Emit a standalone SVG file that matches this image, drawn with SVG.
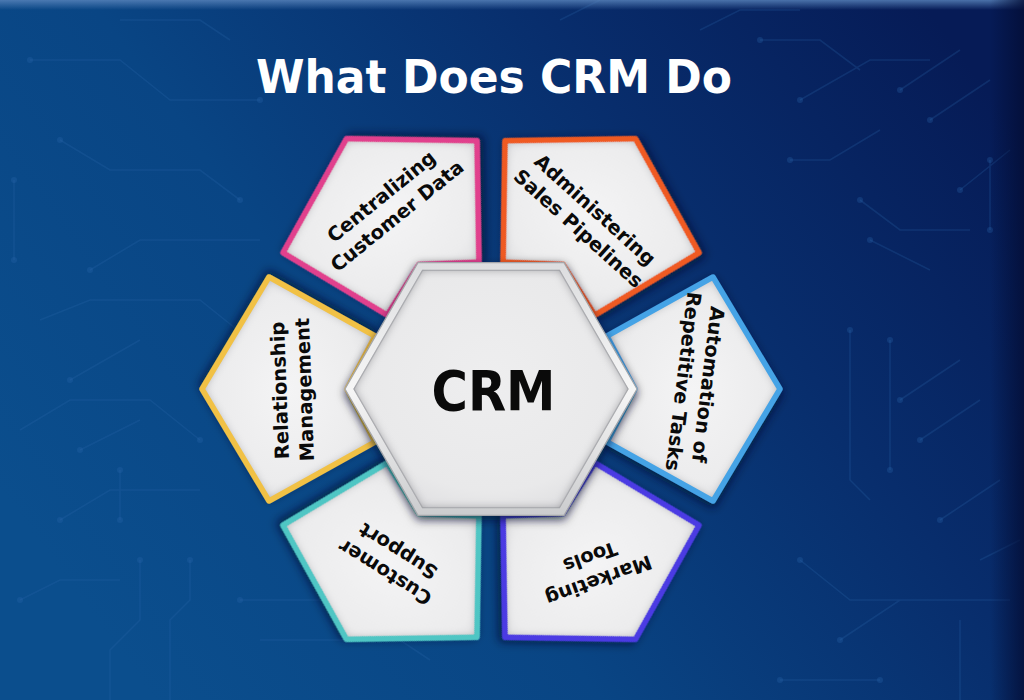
<svg xmlns="http://www.w3.org/2000/svg" xmlns:xlink="http://www.w3.org/1999/xlink" width="1024" height="700" viewBox="0 0 1024 700">
<defs>
  <linearGradient id="bg" x1="0" y1="0.7" x2="1" y2="0.2">
    <stop offset="0" stop-color="#0b4e8d"/>
    <stop offset="0.35" stop-color="#094584"/>
    <stop offset="0.7" stop-color="#082d6c"/>
    <stop offset="1" stop-color="#061b56"/>
  </linearGradient>
  <linearGradient id="topStrip" x1="0" y1="0" x2="0" y2="1">
    <stop offset="0" stop-color="#5b86bd" stop-opacity="0.8"/>
    <stop offset="1" stop-color="#5b86bd" stop-opacity="0"/>
  </linearGradient>
  <linearGradient id="rightEdge" x1="0" y1="0" x2="1" y2="0">
    <stop offset="0" stop-color="#030d35" stop-opacity="0"/>
    <stop offset="1" stop-color="#030d35" stop-opacity="0.8"/>
  </linearGradient>
  <radialGradient id="petalGrad" cx="0.5" cy="0.5" r="0.6">
    <stop offset="0" stop-color="#f4f4f5"/>
    <stop offset="0.7" stop-color="#ececed"/>
    <stop offset="1" stop-color="#dcdcde"/>
  </radialGradient>
  <linearGradient id="hexFrame" x1="0" y1="0" x2="0" y2="1">
    <stop offset="0" stop-color="#dcdddf"/>
    <stop offset="0.5" stop-color="#f6f6f6"/>
    <stop offset="1" stop-color="#cbccce"/>
  </linearGradient>
  <radialGradient id="hexFill" cx="0.5" cy="0.45" r="0.6">
    <stop offset="0" stop-color="#eeeeef"/>
    <stop offset="0.8" stop-color="#e9e9ea"/>
    <stop offset="1" stop-color="#e0e0e2"/>
  </radialGradient>
  <filter id="drop" x="-20%" y="-20%" width="140%" height="140%">
    <feDropShadow dx="0" dy="4" stdDeviation="5" flood-color="#000a2a" flood-opacity="0.7"/>
  </filter>
  <filter id="inner" x="-10%" y="-10%" width="120%" height="120%">
    <feFlood flood-color="#8e8f94" result="f"/>
    <feComposite in="f" in2="SourceAlpha" operator="out" result="o"/>
    <feGaussianBlur in="o" stdDeviation="5" result="b"/>
    <feComposite in="b" in2="SourceAlpha" operator="in" result="s"/>
    <feMerge><feMergeNode in="SourceGraphic"/><feMergeNode in="s"/></feMerge>
  </filter>
  <path id="petal" d="M289 0 L222 -112 L116 -53 L144 0 L116 53 L222 112 Z"/>
  <polygon id="hexOuter" points="146,0 73,-126.4 -73,-126.4 -146,0 -73,126.4 73,126.4"/>
  <polygon id="hexInner" points="137,0 68.5,-118.6 -68.5,-118.6 -137,0 -68.5,118.6 68.5,118.6"/>
</defs>
<style>
  .fill { fill: url(#petalGrad); filter: url(#inner); }
  .edge { fill: none; stroke-width: 5.5; stroke-linejoin: round; }
  .lbl { font-family: "DejaVu Sans", "Liberation Sans", sans-serif; font-weight: bold; font-size: 19.5px; fill: #0a0a0a; text-anchor: middle; }
  .circ { fill: none; stroke: #2a68ad; stroke-opacity: 0.25; stroke-width: 1.6; }
  .dot { fill: #2a68ad; fill-opacity: 0.3; }
</style>

<!-- background -->
<rect width="1024" height="700" fill="url(#bg)"/>
<g id="circuit">
  <path class="circ" d="M30 60 H120 L170 100 H260 M60 140 L110 170 H200 L240 200 M14 180 V260 M90 270 L140 240 H260 M40 320 L90 300 H200 L250 340 H320 M70 380 L140 340 M20 430 L70 400 H150 L200 440 M60 520 L110 490 H200 M140 560 V620 L110 650 V700 M190 560 V600 L170 620 V700 M20 600 L60 580 H120 M240 600 H330 M260 640 H400 L430 660 M120 470 V520 M80 450 L140 420"/>
  <path class="circ" d="M760 40 H820 L860 70 M800 100 L870 60 H930 M900 90 L960 50 M930 120 L990 80 M990 160 V230 M960 190 L1010 150 M880 130 L830 160 L790 160 M860 200 L900 230 H970 M870 240 L930 270 M850 330 V480 L870 500 M890 340 V470 M900 400 L960 360 M920 440 L980 400 M940 520 L1000 480 M800 560 L850 600 H940 M840 640 L900 600 H1010 M780 680 H880 M960 620 V700 M980 560 L1020 540"/>
  <path class="circ" d="M560 20 L600 0 M700 30 L740 10 H800 M120 20 H200 L230 40"/>
  <g class="dot">
    <circle cx="30" cy="60" r="3"/><circle cx="260" cy="100" r="3"/><circle cx="60" cy="140" r="3"/><circle cx="240" cy="200" r="3"/>
    <circle cx="14" cy="180" r="3"/><circle cx="14" cy="260" r="3"/><circle cx="90" cy="270" r="3"/><circle cx="320" cy="340" r="3"/>
    <circle cx="70" cy="380" r="3"/><circle cx="200" cy="440" r="3"/><circle cx="60" cy="520" r="3"/><circle cx="140" cy="560" r="3"/>
    <circle cx="190" cy="560" r="3"/><circle cx="20" cy="600" r="3"/><circle cx="240" cy="600" r="3"/><circle cx="330" cy="600" r="3"/>
    <circle cx="120" cy="470" r="3"/><circle cx="120" cy="520" r="3"/><circle cx="80" cy="450" r="3"/>
    <circle cx="760" cy="40" r="3"/><circle cx="800" cy="100" r="3"/><circle cx="900" cy="90" r="3"/><circle cx="930" cy="120" r="3"/>
    <circle cx="990" cy="160" r="3"/><circle cx="990" cy="230" r="3"/><circle cx="960" cy="190" r="3"/><circle cx="790" cy="160" r="3"/>
    <circle cx="860" cy="200" r="3"/><circle cx="870" cy="240" r="3"/><circle cx="850" cy="330" r="3"/><circle cx="890" cy="340" r="3"/>
    <circle cx="890" cy="470" r="3"/><circle cx="900" cy="400" r="3"/><circle cx="920" cy="440" r="3"/><circle cx="940" cy="520" r="3"/>
    <circle cx="800" cy="560" r="3"/><circle cx="840" cy="640" r="3"/><circle cx="780" cy="680" r="3"/><circle cx="880" cy="680" r="3"/>
  </g>
</g>
<rect width="1024" height="10" fill="url(#topStrip)"/>
<rect x="990" width="34" height="700" fill="url(#rightEdge)"/>

<!-- title -->
<text id="title" x="494" y="93" font-family="'DejaVu Sans', 'Liberation Sans', sans-serif" font-weight="bold" font-size="47" fill="#ffffff" text-anchor="middle" textLength="476" lengthAdjust="spacingAndGlyphs">What Does CRM Do</text>

<!-- petals -->
<g id="petal-centralizing">
  <g transform="translate(491 389) rotate(-120)" filter="url(#drop)">
    <use href="#petal" class="fill"/>
    <use href="#petal" class="edge" stroke="#e1408d"/>
  </g>
  <text class="lbl" transform="translate(389 206) rotate(-39)"><tspan x="0" y="-5.5">Centralizing</tspan><tspan x="0" y="19.5">Customer Data</tspan></text>
</g>
<g id="petal-administering">
  <g transform="translate(491 389) rotate(-60)" filter="url(#drop)">
    <use href="#petal" class="fill"/>
    <use href="#petal" class="edge" stroke="#ef5a22"/>
  </g>
  <text class="lbl" transform="translate(587 219) rotate(42)"><tspan x="0" y="-5.5">Administering</tspan><tspan x="0" y="19.5">Sales Pipelines</tspan></text>
</g>
<g id="petal-automation">
  <g transform="translate(491 389) rotate(0)" filter="url(#drop)">
    <use href="#petal" class="fill"/>
    <use href="#petal" class="edge" stroke="#45a3e6"/>
  </g>
  <text class="lbl" transform="translate(696 383) rotate(97)"><tspan x="0" y="-5.5">Automation of</tspan><tspan x="0" y="19.5">Repetitive Tasks</tspan></text>
</g>
<g id="petal-marketing">
  <g transform="translate(491 389) rotate(60)" filter="url(#drop)">
    <use href="#petal" class="fill"/>
    <use href="#petal" class="edge" stroke="#4b3ae3"/>
  </g>
  <text class="lbl" transform="translate(594.5 569) rotate(160)"><tspan x="0" y="-5.5">Marketing</tspan><tspan x="0" y="19.5">Tools</tspan></text>
</g>
<g id="petal-support">
  <g transform="translate(491 389) rotate(120)" filter="url(#drop)">
    <use href="#petal" class="fill"/>
    <use href="#petal" class="edge" stroke="#4fc6c4"/>
  </g>
  <text class="lbl" transform="translate(391.5 562) rotate(212)"><tspan x="0" y="-5.5">Customer</tspan><tspan x="0" y="19.5">Support</tspan></text>
</g>
<g id="petal-relationship">
  <g transform="translate(491 389) rotate(180)" filter="url(#drop)">
    <use href="#petal" class="fill"/>
    <use href="#petal" class="edge" stroke="#f1c145"/>
  </g>
  <text class="lbl" transform="translate(292 390) rotate(-92)"><tspan x="0" y="-5.5">Relationship</tspan><tspan x="0" y="19.5">Management</tspan></text>
</g>

<!-- center hexagon -->
<g id="crm">
  <g transform="translate(491 389)" filter="url(#drop)">
    <use href="#hexOuter" fill="url(#hexFrame)" stroke="#a4a6aa" stroke-width="1.2"/>
    <use href="#hexInner" fill="url(#hexFill)" stroke="#c0c1c4" stroke-width="1.2" filter="url(#inner)"/>
  </g>
  <text x="493.5" y="410" font-family="'DejaVu Sans', 'Liberation Sans', sans-serif" font-weight="bold" font-size="55" fill="#0a0a0a" text-anchor="middle" textLength="124" lengthAdjust="spacingAndGlyphs">CRM</text>
</g>
<g id="connectors"/>
</svg>
